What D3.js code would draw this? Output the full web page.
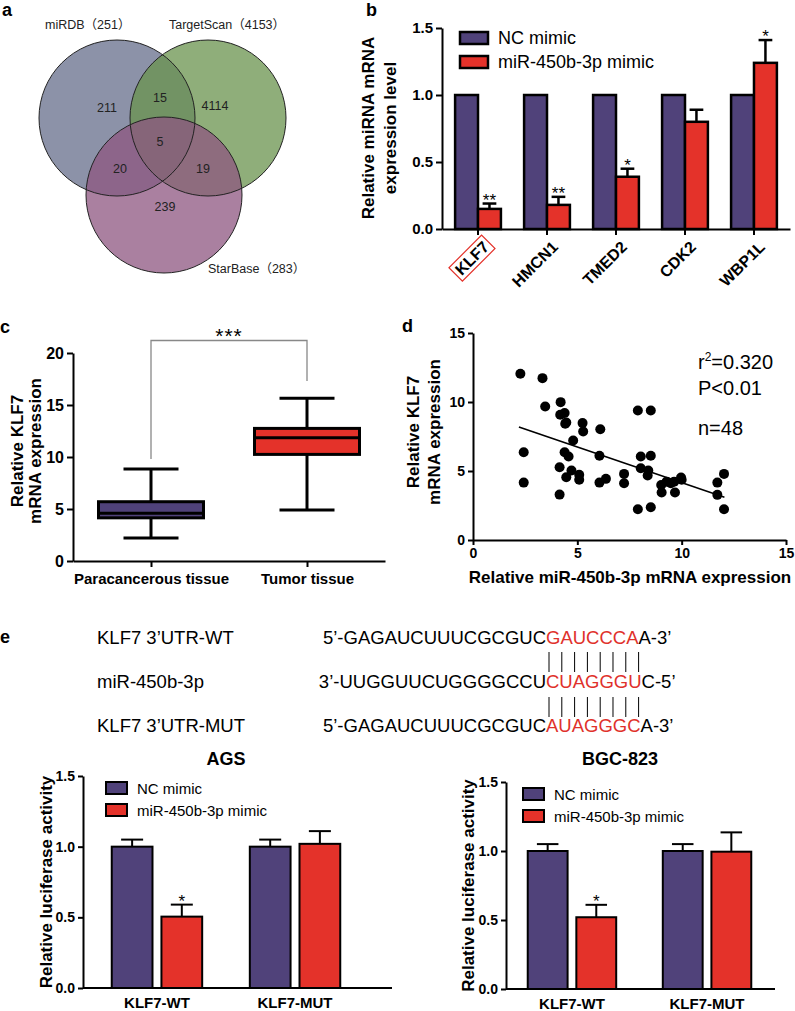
<!DOCTYPE html>
<html>
<head>
<meta charset="utf-8">
<script src="https://cdn.jsdelivr.net/npm/d3@7"></script>
<style>
  body { margin: 0; background: #fff; }
  text { font-family: 'Liberation Sans', Arial, 'Noto Sans CJK SC', sans-serif; fill: #000; }
</style>
</head>
<body>
<script>
// ---- a: venn
const vennSets = ["miRDB（251）", "TargetScan（4153）", "StarBase（283）"];
const vennRegions = ["miRDB", "miRDB+TargetScan", "TargetScan", "all", "miRDB+StarBase", "TargetScan+StarBase", "StarBase"];
const vennCounts = [211, 15, 4114, 5, 20, 19, 239];

// ---- b: candidate targets
const genes = ["KLF7", "HMCN1", "TMED2", "CDK2", "WBP1L"];
const ncLevel = [1, 1, 1, 1, 1];
const mimicLevel = [0.15, 0.18, 0.39, 0.80, 1.24];
const mimicErr = [0.04, 0.06, 0.06, 0.09, 0.17];
const bStars = ["**", "**", "*", "", "*"];
const groupKeys = ["NC mimic", "miR-450b-3p mimic"];

// ---- c: box plot
const tissues = ["Paracancerous tissue", "Tumor tissue"];
const boxMin = [2.2, 4.9];
const boxQ1 = [4.15, 10.25];
const boxMedian = [4.6, 11.85];
const boxQ3 = [5.7, 12.75];
const boxMax = [8.85, 15.65];

// ---- d: correlation
const mirExpr = [2.27, 3.33, 3.46, 2.43, 2.43, 4.2, 4.18, 4.39, 4.42, 4.47, 4.8, 5.25, 5.28, 6.1, 4.39, 4.58,
  4.15, 4.72, 4.47, 5.09, 5.09, 4.15, 6.06, 6.06, 6.37, 7.24, 7.24, 7.9, 8.52, 8.04, 8.52, 8.04,
  8.4, 8.37, 7.9, 8.52, 9.02, 9.04, 9.28, 9.48, 9.64, 9.68, 9.97, 10.0, 11.71, 11.71, 12.03, 12.03];
const klf7Expr = [12.05, 11.73, 9.68, 6.36, 4.16, 9.99, 9.07, 9.2, 8.42, 8.52, 7.21, 8.47, 7.86, 8.03, 6.36, 6.05,
  5.27, 5.03, 4.55, 4.72, 4.36, 3.29, 6.1, 4.16, 4.43, 4.79, 4.11, 9.39, 9.39, 6.05, 6.1, 5.2,
  5.03, 4.67, 2.23, 2.37, 3.99, 3.44, 4.23, 4.11, 4.23, 3.44, 4.52, 4.36, 4.16, 3.27, 4.79, 2.23];
const fitX = [2.2, 12.05];
const fitY = [8.18, 3.1];
const statLines = ["r2=0.320", "P<0.01", "n=48"];

// ---- e: sequences and luciferase
const seqNames = ["KLF7 3’UTR-WT", "miR-450b-3p", "KLF7 3’UTR-MUT"];
const seqHead = ["5’-GAGAUCUUUCGCGUC", "3’-UUGGUUCUGGGGCCU", "5’-GAGAUCUUUCGCGUC"];
const seqSeed = ["GAUCCCA", "CUAGGGU", "AUAGGGC"];
const seqTail = ["A-3’", "C-5’", "A-3’"];
const pairCount = 8;

const constructs = ["KLF7-WT", "KLF7-MUT"];
const agsNC = [1.0, 1.0], agsNCErr = [0.05, 0.05];
const agsMimic = [0.505, 1.02], agsMimicErr = [0.085, 0.09];
const agsStars = ["*", ""];
const bgcNC = [1.0, 1.0], bgcNCErr = [0.05, 0.05];
const bgcMimic = [0.52, 0.995], bgcMimicErr = [0.09, 0.14];
const bgcStars = ["*", ""];

const NC_COL = "#50427a", MIM_COL = "#e4322a";
const svg = d3.select("body").append("svg").attr("width", 795).attr("height", 1011);

function styleAxis(g, size) {
  g.select(".domain").attr("stroke", "#000").attr("stroke-width", 2);
  g.selectAll(".tick line").attr("stroke", "#000").attr("stroke-width", 2);
  g.selectAll(".tick text").style("font-size", size + "px").style("font-weight", "bold");
}

// rotated multi-line axis title, centred on y
function vLabel(lines, xs, y, size) {
  lines.forEach((t, i) => {
    svg.append("text")
      .attr("transform", `translate(${xs[i]},${y}) rotate(-90)`)
      .attr("text-anchor", "middle")
      .style("font-size", size + "px").style("font-weight", "bold")
      .text(t);
  });
}

// panel letters
[["a", 2, 16], ["b", 366, 16], ["c", 0, 333], ["d", 402, 332], ["e", 0, 643]].forEach(p => {
  svg.append("text").attr("x", p[1]).attr("y", p[2])
    .style("font-size", "18px").style("font-weight", "bold").text(p[0]);
});

// ================= a
const vennR = 78;
const vennCircles = [{cx: 117, cy: 118, fill: "#666e8b"}, {cx: 208, cy: 118, fill: "#6a934e"}, {cx: 164, cy: 195, fill: "#8e5680"}];
const va = svg.append("g");
va.selectAll("circle.fill").data(vennCircles).enter().append("circle")
  .attr("cx", d => d.cx).attr("cy", d => d.cy).attr("r", vennR)
  .attr("fill", d => d.fill).attr("fill-opacity", 0.75);
va.selectAll("circle.edge").data(vennCircles).enter().append("circle")
  .attr("cx", d => d.cx).attr("cy", d => d.cy).attr("r", vennR)
  .attr("fill", "none").attr("stroke", "#222").attr("stroke-width", 1);
const vennLabelPos = [[45, 29], [169, 29], [208, 273]];
vennSets.forEach((s, i) => {
  va.append("text").attr("x", vennLabelPos[i][0]).attr("y", vennLabelPos[i][1])
    .style("font-size", "12.5px").style("fill", "#222").text(s);
});
const vennCountPos = [[107, 112], [160, 102], [215, 110], [160, 146], [120, 173], [203, 173], [165, 211]];
vennCounts.forEach((c, i) => {
  va.append("text").attr("x", vennCountPos[i][0]).attr("y", vennCountPos[i][1])
    .attr("text-anchor", "middle").style("font-size", "12.5px").style("fill", "#222").text(c);
});

// ================= b
const bRows = genes.map((g, i) => ({key: g, nc: ncLevel[i], mim: mimicLevel[i], err: mimicErr[i], star: bStars[i]}));
const bx0 = d3.scaleBand().domain(genes).range([442, 790]).paddingInner(0.336).paddingOuter(0.19);
const bx1 = d3.scaleBand().domain(groupKeys).range([0, bx0.bandwidth()]);
const by = d3.scaleLinear().domain([0, 1.5]).range([229, 28]);
const gb = svg.append("g");

function drawBars(g, rows, x0, x1, y, sw, capFrac, starSize) {
  const bw = x1.bandwidth();
  rows.forEach(r => {
    const xa = x0(r.key) + x1(groupKeys[0]);
    const xb = x0(r.key) + x1(groupKeys[1]);
    // error bars (upper only)
    [[xa, r.nc, r.ncErr], [xb, r.mim, r.err]].forEach(e => {
      if (!e[2]) return;
      const c = e[0] + bw / 2;
      g.append("line").attr("x1", c).attr("x2", c).attr("y1", y(e[1])).attr("y2", y(e[1] + e[2]))
        .attr("stroke", "#000").attr("stroke-width", sw);
      g.append("line").attr("x1", c - bw * capFrac).attr("x2", c + bw * capFrac)
        .attr("y1", y(e[1] + e[2])).attr("y2", y(e[1] + e[2]))
        .attr("stroke", "#000").attr("stroke-width", sw);
    });
    g.append("rect").attr("x", xa).attr("y", y(r.nc)).attr("width", bw).attr("height", y(0) - y(r.nc))
      .attr("fill", NC_COL).attr("stroke", "#000").attr("stroke-width", sw);
    g.append("rect").attr("x", xb).attr("y", y(r.mim)).attr("width", bw).attr("height", y(0) - y(r.mim))
      .attr("fill", MIM_COL).attr("stroke", "#000").attr("stroke-width", sw);
    if (r.star) {
      g.append("text").attr("x", xb + bw / 2).attr("y", y(r.mim + r.err) + 2)
        .attr("text-anchor", "middle").style("font-size", starSize + "px").text(r.star);
    }
  });
}

function drawLegend(g, x, y0, dy, bw, bh, size, sw) {
  [NC_COL, MIM_COL].forEach((c, i) => {
    g.append("rect").attr("x", x).attr("y", y0 + i * dy).attr("width", bw).attr("height", bh)
      .attr("fill", c).attr("stroke", "#000").attr("stroke-width", sw);
    g.append("text").attr("x", x + bw + 10).attr("y", y0 + i * dy + bh - 0.5)
      .style("font-size", size + "px").text(groupKeys[i]);
  });
}

drawBars(gb, bRows, bx0, bx1, by, 2.5, 0.3, 17);

const byAxis = gb.append("g").attr("transform", "translate(442,0)")
  .call(d3.axisLeft(by).tickValues([0, 0.5, 1, 1.5]).tickFormat(d3.format(".1f")).tickSize(6).tickSizeOuter(0));
styleAxis(byAxis, 15);
const bxAxis = gb.append("g").attr("transform", "translate(0,229)")
  .call(d3.axisBottom(bx0).tickSize(6).tickSizeOuter(0));
styleAxis(bxAxis, 16);
bxAxis.selectAll(".tick text")
  .attr("x", 0).attr("y", 0).attr("dy", "0.35em")
  .attr("transform", "translate(8,15) rotate(-45)")
  .style("text-anchor", "end");
// red frame round KLF7
bxAxis.selectAll(".tick").filter(d => d === genes[0]).each(function () {
  const t = d3.select(this).select("text");
  const bb = t.node().getBBox();
  d3.select(this).append("rect")
    .attr("x", bb.x - 3).attr("y", bb.y - 1).attr("width", bb.width + 6).attr("height", bb.height + 2)
    .attr("transform", t.attr("transform"))
    .attr("fill", "none").attr("stroke", "#e4322a").attr("stroke-width", 1.2);
});
drawLegend(gb, 460, 32, 24, 28, 12, 18, 2.5);
vLabel(["Relative miRNA mRNA", "expression level"], [374, 396], 128, 17);

// ================= c
const cxs = d3.scalePoint().domain(tissues).range([73, 385]).padding(0.5);
const cys = d3.scaleLinear().domain([0, 20]).range([561, 353]);
const gc = svg.append("g");
const boxW = 105, capW = 55;
tissues.forEach((t, i) => {
  const c = cxs(t);
  [[boxMax[i], boxQ3[i]], [boxQ1[i], boxMin[i]]].forEach(w => {
    gc.append("line").attr("x1", c).attr("x2", c).attr("y1", cys(w[0])).attr("y2", cys(w[1]))
      .attr("stroke", "#000").attr("stroke-width", 3);
  });
  [boxMax[i], boxMin[i]].forEach(v => {
    gc.append("line").attr("x1", c - capW / 2).attr("x2", c + capW / 2).attr("y1", cys(v)).attr("y2", cys(v))
      .attr("stroke", "#000").attr("stroke-width", 3);
  });
  gc.append("rect").attr("x", c - boxW / 2).attr("y", cys(boxQ3[i])).attr("width", boxW)
    .attr("height", cys(boxQ1[i]) - cys(boxQ3[i]))
    .attr("fill", i === 0 ? NC_COL : MIM_COL).attr("stroke", "#000").attr("stroke-width", 3);
  gc.append("line").attr("x1", c - boxW / 2).attr("x2", c + boxW / 2)
    .attr("y1", cys(boxMedian[i])).attr("y2", cys(boxMedian[i]))
    .attr("stroke", "#000").attr("stroke-width", 3);
});
// significance bracket
const c0 = cxs(tissues[0]), c1 = cxs(tissues[1]);
gc.append("path")
  .attr("d", `M${c0},${cys(9.8)}V${cys(21.2)}H${c1}V${cys(17.3)}`)
  .attr("fill", "none").attr("stroke", "#888").attr("stroke-width", 1.3);
gc.append("text").attr("x", (c0 + c1) / 2).attr("y", cys(21.2) + 2).attr("text-anchor", "middle")
  .style("font-size", "21px").style("letter-spacing", "1px").text("***");
const cyAxis = gc.append("g").attr("transform", "translate(73,0)")
  .call(d3.axisLeft(cys).tickValues([0, 5, 10, 15, 20]).tickSize(6).tickSizeOuter(0));
styleAxis(cyAxis, 16);
const cxAxis = gc.append("g").attr("transform", "translate(0,561)")
  .call(d3.axisBottom(cxs).tickSize(6).tickSizeOuter(0));
styleAxis(cxAxis, 15);
cxAxis.selectAll(".tick text").attr("y", 12);
vLabel(["Relative KLF7", "mRNA expression"], [23, 41], 451, 17);

// ================= d
const dxs = d3.scaleLinear().domain([0, 15]).range([473, 786]);
const dys = d3.scaleLinear().domain([0, 15]).range([540, 333]);
const gd = svg.append("g");
gd.append("line")
  .attr("x1", dxs(fitX[0])).attr("y1", dys(fitY[0])).attr("x2", dxs(fitX[1])).attr("y2", dys(fitY[1]))
  .attr("stroke", "#000").attr("stroke-width", 1.6);
gd.selectAll("circle").data(mirExpr.map((x, i) => [x, klf7Expr[i]])).enter().append("circle")
  .attr("cx", d => dxs(d[0])).attr("cy", d => dys(d[1])).attr("r", 5).attr("fill", "#000");
const dyAxis = gd.append("g").attr("transform", "translate(473,0)")
  .call(d3.axisLeft(dys).tickValues([0, 5, 10, 15]).tickSize(5).tickSizeOuter(0));
styleAxis(dyAxis, 14);
const dxAxis = gd.append("g").attr("transform", "translate(0,540)")
  .call(d3.axisBottom(dxs).tickValues([0, 5, 10, 15]).tickSize(5).tickSizeOuter(0));
styleAxis(dxAxis, 14);
[369, 395, 435].forEach((y, i) => {
  const t = gd.append("text").attr("x", 698).attr("y", y).style("font-size", "20px");
  if (i === 0) {
    t.append("tspan").text("r");
    t.append("tspan").attr("dy", -8).style("font-size", "12px").text("2");
    t.append("tspan").attr("dy", 8).text("=0.320");
  } else {
    t.text(statLines[i]);
  }
});
gd.append("text").attr("x", 630).attr("y", 583).attr("text-anchor", "middle")
  .style("font-size", "17px").style("font-weight", "bold").text("Relative miR-450b-3p mRNA expression");
vLabel(["Relative KLF7", "mRNA expression"], [419, 440], 432, 17);

// ================= e sequences
const ge = svg.append("g");
const seedX = 546, seqBase = [644, 688, 732];
let seedW = 0;
seqNames.forEach((n, i) => {
  ge.append("text").attr("x", 97).attr("y", seqBase[i]).style("font-size", "18.5px").text(n);
  ge.append("text").attr("x", seedX).attr("y", seqBase[i]).attr("text-anchor", "end")
    .style("font-size", "18.5px").text(seqHead[i]);
  const t = ge.append("text").attr("x", seedX).attr("y", seqBase[i]).style("font-size", "18.5px");
  const red = t.append("tspan").style("fill", "#e0312b").text(seqSeed[i]);
  t.append("tspan").text(seqTail[i]);
  seedW = Math.max(seedW, red.node().getComputedTextLength());
});
const pairX = d3.scaleLinear().domain([0, pairCount - 1]).range([seedX + 3, seedX + seedW - 3]);
d3.range(pairCount).forEach(k => {
  [[652, 672], [697, 717]].forEach(s => {
    ge.append("line").attr("x1", pairX(k)).attr("x2", pairX(k)).attr("y1", s[0]).attr("y2", s[1])
      .attr("stroke", "#000").attr("stroke-width", 1);
  });
});

// ================= e luciferase bars
function lucChart(title, titleX, axisX, axisEnd, bandRange, y0, y15, nc, ncErr, mim, mimErr, stars, legX, labelX) {
  const g = svg.append("g");
  const rows = constructs.map((c, i) => ({key: c, nc: nc[i], ncErr: ncErr[i], mim: mim[i], err: mimErr[i], star: stars[i]}));
  const x0 = d3.scaleBand().domain(constructs).range(bandRange).paddingInner(0.345).paddingOuter(0.172);
  const x1 = d3.scaleBand().domain(groupKeys).range([0, x0.bandwidth()]).paddingInner(0.18);
  const y = d3.scaleLinear().domain([0, 1.5]).range([y0, y15]);
  drawBars(g, rows, x0, x1, y, 2, 0.27, 17);
  const ya = g.append("g").attr("transform", `translate(${axisX},0)`)
    .call(d3.axisLeft(y).tickValues([0, 0.5, 1, 1.5]).tickFormat(d3.format(".1f")).tickSize(5).tickSizeOuter(0));
  styleAxis(ya, 14);
  const xa = g.append("g").attr("transform", `translate(0,${y0})`)
    .call(d3.axisBottom(x0).tickSize(0).tickSizeOuter(0));
  styleAxis(xa, 15);
  xa.select(".domain").attr("d", `M${axisX},0H${axisEnd}`);
  xa.selectAll(".tick text").attr("y", 9);
  drawLegend(g, legX, y15 + 6, 22, 21, 12, 15, 2);
  g.append("text").attr("x", titleX).attr("y", 765).attr("text-anchor", "middle")
    .style("font-size", "18px").style("font-weight", "bold").text(title);
  vLabel(["Relative luciferase activity"], [labelX], (y0 + y15) / 2, 17);
}
lucChart("AGS", 226, 83, 392, [88, 364], 988, 776, agsNC, agsNCErr, agsMimic, agsMimicErr, agsStars, 106, 52);
lucChart("BGC-823", 620, 506, 775, [504.5, 774.5], 989, 782, bgcNC, bgcNCErr, bgcMimic, bgcMimicErr, bgcStars, 523, 474);
</script>
</body>
</html>
